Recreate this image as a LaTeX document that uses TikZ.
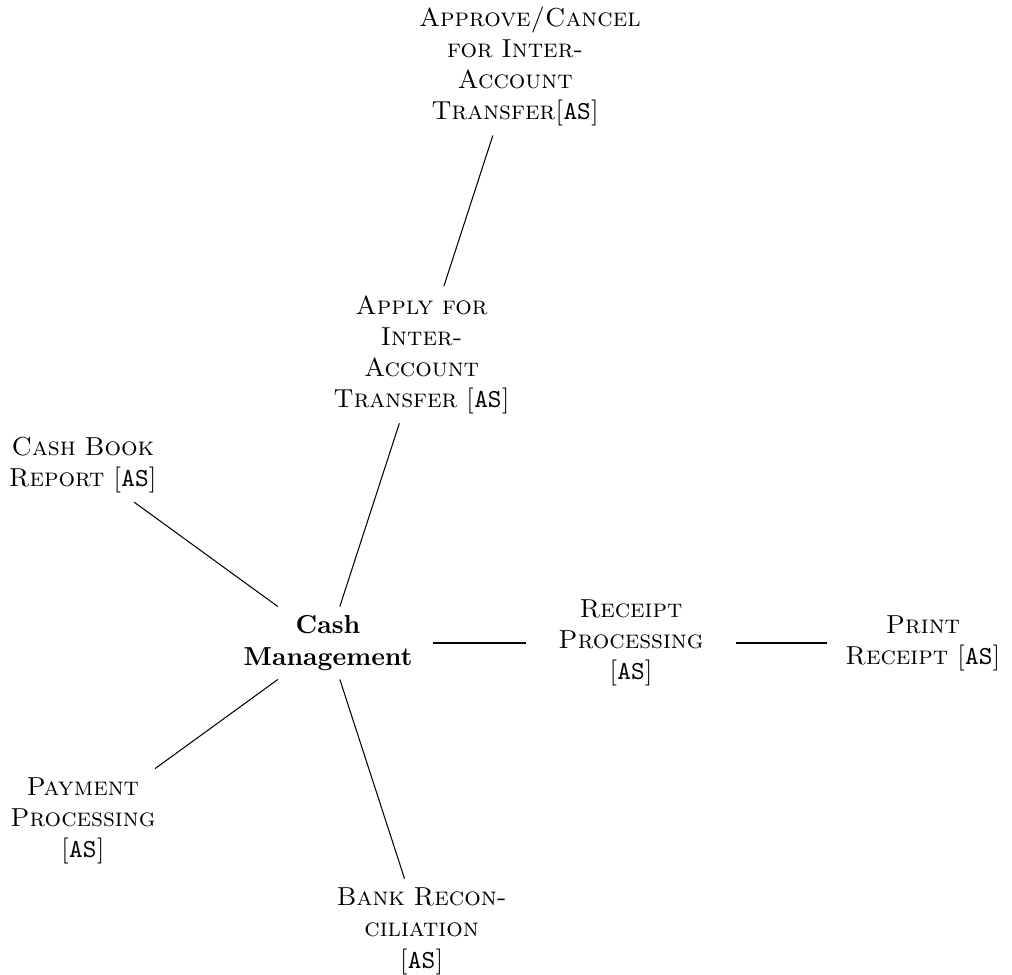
\documentclass[tikz,border=0pt]{standalone}
% word breaks used in the node texts
\hyphenation{Management Processing recon-ciliation}
\begin{document}
\begin{tikzpicture}[x=0.3846pt, y=-0.3846pt,
  hub/.style={text width=2.6cm, align=center, font=\bfseries},
  leaf/.style={text width=2.6cm, align=center, font=\scshape},
  link/.style={draw=black, line width=0.4pt}]
  \useasboundingbox (0,0) rectangle (1012,975);

  % central topic
  \node[hub] (cash) at (328,643) {Cash Management};

  % first ring, 72 degrees apart
  \node[leaf] (receipt) at (631,643) {Receipt Processing [\texttt{AS}]};
  \node[leaf] (apply)   at (421.6,354.8) {Apply for Inter-Account Transfer [\texttt{AS}]};
  \node[leaf] (book)    at (82.9,464.9) {Cash Book Report [\texttt{AS}]};
  \node[leaf] (payment) at (82.9,821.1) {Payment Processing [\texttt{AS}]};
  \node[leaf] (bank)    at (421.6,931.2) {Bank Reconciliation\\{}[\texttt{AS}]};

  % second ring
  \node[leaf] (approve) at (515.2,66.6) {Approve/Cancel for Inter-Account Transfer[\texttt{AS}]};
  \node[leaf, text width=2.35cm] (print) at (923,643) {Print Receipt [\texttt{AS}]};

  % connectors
  \draw[link] (cash) -- (receipt);
  \draw[link] (cash) -- (apply);
  \draw[link] (cash) -- (book);
  \draw[link] (cash) -- (payment);
  \draw[link] (cash) -- (bank);
  \draw[link] (apply) -- (approve);
  \draw[link] (receipt) -- (print);
\end{tikzpicture}
\end{document}
